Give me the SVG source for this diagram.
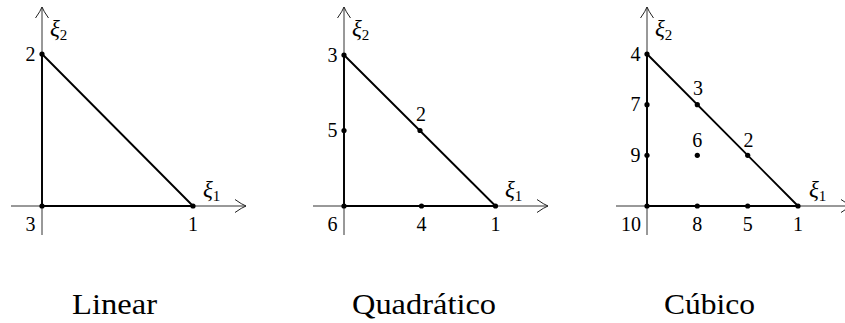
<svg xmlns="http://www.w3.org/2000/svg" width="845" height="323" viewBox="0 0 845 323">
<defs>
<marker id="arr" markerUnits="userSpaceOnUse" markerWidth="16" markerHeight="16" viewBox="-13 -8 16 16" refX="0" refY="0" orient="auto" overflow="visible">
<path d="M-11,-6.5 Q-4,-1.5 0,0 Q-4,1.5 -11,6.5" fill="none" stroke="#222" stroke-width="1"/>
</marker>
<style>
.ax{stroke:#333;stroke-width:1;fill:none;marker-end:url(#arr)}
.ed{stroke:#000;stroke-width:1.9;fill:none;stroke-linejoin:round}
.dot{fill:#000}
text{font-family:"Liberation Serif","Times New Roman",serif;fill:#000}
.n{font-size:20px}
.l{text-anchor:end}
.c{text-anchor:middle}
.xi{font-size:23px;font-style:italic}
.sub{font-style:normal;font-size:15px}
.cap{font-size:30px;text-anchor:middle}
</style>
</defs>

<g id="axes">
<path class="ax" d="M11,206 H246"/>
<path class="ax" d="M42,235 V7"/>
<path class="ax" d="M313,206 H548"/>
<path class="ax" d="M344,235 V7"/>
<path class="ax" d="M616,206 H852"/>
<path class="ax" d="M647,235 V7"/>
<text class="xi" x="50" y="36">ξ<tspan class="sub" dy="3.5">2</tspan></text>
<text class="xi" x="203" y="197">ξ<tspan class="sub" dy="3.5">1</tspan></text>
<text class="xi" x="352" y="36">ξ<tspan class="sub" dy="3.5">2</tspan></text>
<text class="xi" x="505" y="197">ξ<tspan class="sub" dy="3.5">1</tspan></text>
<text class="xi" x="655" y="36">ξ<tspan class="sub" dy="3.5">2</tspan></text>
<text class="xi" x="809" y="197">ξ<tspan class="sub" dy="3.5">1</tspan></text>
</g>

<g id="connectors">
<path class="ed" d="M42,206 H193 L42,54 Z"/>
<path class="ed" d="M344,206 H495.5 L344,55 Z"/>
<path class="ed" d="M647,206 H798 L647,54 Z"/>
</g>

<g id="lin-n1"><circle class="dot" cx="193" cy="206" r="2.6"/><text class="n c" x="193" y="231">1</text></g>
<g id="lin-n2"><circle class="dot" cx="42" cy="54" r="2.6"/><text class="n l" x="35.5" y="60.5">2</text></g>
<g id="lin-n3"><circle class="dot" cx="42" cy="206" r="2.6"/><text class="n l" x="35.5" y="231">3</text></g>

<g id="quad-n1"><circle class="dot" cx="495.5" cy="206" r="2.6"/><text class="n c" x="495.5" y="231">1</text></g>
<g id="quad-n2"><circle class="dot" cx="420" cy="130.5" r="2.6"/><text class="n c" x="421" y="121">2</text></g>
<g id="quad-n3"><circle class="dot" cx="344" cy="55" r="2.6"/><text class="n l" x="337.5" y="61.5">3</text></g>
<g id="quad-n4"><circle class="dot" cx="421.5" cy="206" r="2.6"/><text class="n c" x="421.5" y="231">4</text></g>
<g id="quad-n5"><circle class="dot" cx="344" cy="130.5" r="2.6"/><text class="n l" x="337.5" y="137">5</text></g>
<g id="quad-n6"><circle class="dot" cx="344" cy="206" r="2.6"/><text class="n l" x="337.5" y="231">6</text></g>

<g id="cub-n1"><circle class="dot" cx="798" cy="206" r="2.6"/><text class="n c" x="798" y="231">1</text></g>
<g id="cub-n2"><circle class="dot" cx="747.7" cy="155.3" r="2.6"/><text class="n c" x="748.5" y="147">2</text></g>
<g id="cub-n3"><circle class="dot" cx="697.3" cy="104.7" r="2.6"/><text class="n c" x="698" y="95">3</text></g>
<g id="cub-n4"><circle class="dot" cx="647" cy="54" r="2.6"/><text class="n l" x="640.5" y="60.5">4</text></g>
<g id="cub-n5"><circle class="dot" cx="747.7" cy="206" r="2.6"/><text class="n c" x="747.7" y="231">5</text></g>
<g id="cub-n6"><circle class="dot" cx="697.3" cy="155.3" r="2.6"/><text class="n c" x="697.3" y="147">6</text></g>
<g id="cub-n7"><circle class="dot" cx="647" cy="104.7" r="2.6"/><text class="n l" x="640.5" y="111.2">7</text></g>
<g id="cub-n8"><circle class="dot" cx="697.3" cy="206" r="2.6"/><text class="n c" x="697.3" y="231">8</text></g>
<g id="cub-n9"><circle class="dot" cx="647" cy="155.3" r="2.6"/><text class="n l" x="640.5" y="161.8">9</text></g>
<g id="cub-n10"><circle class="dot" cx="647" cy="206" r="2.6"/><text class="n l" x="641" y="231">10</text></g>

<g id="captions">
<text class="cap" x="114.5" y="313.5" textLength="85" lengthAdjust="spacingAndGlyphs">Linear</text>
<text class="cap" x="424" y="313.5" textLength="144" lengthAdjust="spacingAndGlyphs">Quadrático</text>
<text class="cap" x="709.5" y="313.5" textLength="91" lengthAdjust="spacingAndGlyphs">Cúbico</text>
</g>
</svg>
